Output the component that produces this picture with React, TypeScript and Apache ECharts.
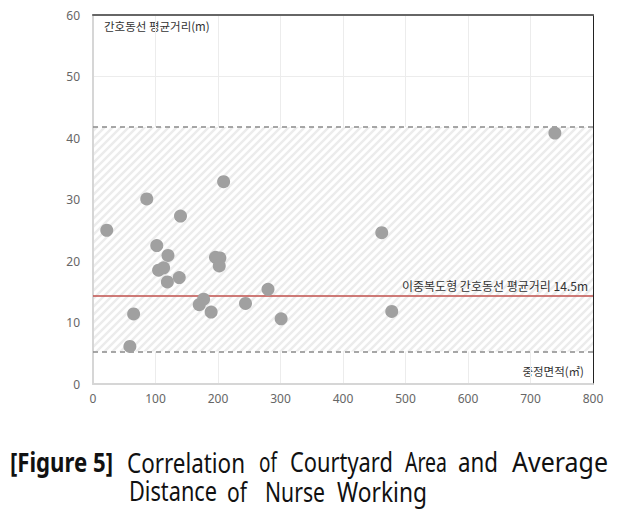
import React, { useEffect, useRef } from "react";
import * as echarts from "echarts";

const courtyardArea = [22, 86, 140, 102, 120, 105, 113, 119, 138, 196, 203, 202, 209, 177, 170, 189, 244, 280, 301, 65, 59, 462, 478, 739];
const avgDistance = [25, 30.1, 27.3, 22.5, 20.9, 18.5, 18.9, 16.6, 17.3, 20.6, 20.5, 19.2, 32.9, 13.8, 12.9, 11.7, 13.1, 15.4, 10.6, 11.4, 6.1, 24.6, 11.8, 40.8];
const rangeUpper = 41.8;
const rangeLower = 5.3;
const referenceLine = 14.3;
const referenceLabel = "이중복도형 간호동선 평균거리 14.5m";
const yAxisTitle = "간호동선 평균거리(m)";
const xAxisTitle = "중정면적(㎡)";
const captionTag = "[Figure 5]";
const captionLine1 = ["Correlation", "of", "Courtyard", "Area", "and", "Average"];
const captionLine2 = ["Distance", "of", "Nurse", "Working"];

const KR = '"Noto Sans CJK KR", "Noto Sans", sans-serif';
const CAP = '"Noto Sans", sans-serif';

export default function App() {
  const ref = useRef<HTMLDivElement>(null);
  useEffect(() => {
    if (!ref.current) return;
    const chart = echarts.init(ref.current, undefined, { renderer: "svg" });
    const P = 8;
    const pc = document.createElement("canvas");
    pc.width = P;
    pc.height = P;
    const ctx = pc.getContext("2d")!;
    ctx.fillStyle = "#ffffff";
    ctx.fillRect(0, 0, P, P);
    ctx.strokeStyle = "#ececec";
    ctx.lineWidth = 2.5;
    ctx.beginPath();
    for (const o of [-P, 0, P]) {
      ctx.moveTo(o - 1, P + 1);
      ctx.lineTo(o + P + 1, -1);
    }
    ctx.stroke();

    const mc = document.createElement("canvas").getContext("2d")!;
    const FS = 27;
    const measure = (w: string, bold: boolean) => {
      mc.font = `${bold ? "bold " : ""}${FS}px ${CAP}`;
      return mc.measureText(w).width || w.length * FS * 0.55;
    };

    const data = courtyardArea.map((x, i) => [x, avgDistance[i]]);
    // [start, end] extents of each caption word on the page
    const tagSpan = [10, 113];
    const line1Span = [[127, 245], [259, 277], [290, 393], [405, 447], [458, 498], [512, 608]];
    const line2Span = [[129, 217], [227, 247], [265, 325], [337, 427]];
    const capWord = (w: string, span: number[], y: number, bold = false) => ({
      type: "text",
      x: span[0],
      y,
      scaleX: (span[1] - span[0]) / measure(w, bold),
      style: {
        text: w,
        fill: "#111",
        fontSize: FS,
        fontWeight: bold ? "bold" : "normal",
        fontFamily: CAP,
        verticalAlign: "middle",
        align: "left",
      },
    });

    chart.setOption({
      animation: false,
      grid: { left: 93, top: 15, width: 500, height: 369 },
      xAxis: [
        {
          type: "value",
          min: 0,
          max: 800,
          interval: 100,
          axisLine: { show: true, lineStyle: { color: "#d6d6d6", width: 2 } },
          axisTick: { show: false },
          axisLabel: { color: "#666", fontSize: 12, fontFamily: "Noto Sans", margin: 8 },
          splitLine: { show: true, lineStyle: { color: "#ececec", width: 1 } },
        },
        {
          type: "value",
          position: "top",
          min: 0,
          max: 800,
          interval: 100,
          axisLine: { show: true, onZero: false, lineStyle: { color: "#666", width: 2 } },
          axisTick: { show: false },
          axisLabel: { show: false },
          splitLine: { show: false },
        },
      ],
      yAxis: [
        {
          type: "value",
          min: 0,
          max: 60,
          interval: 10,
          axisLine: { show: true, lineStyle: { color: "#d6d6d6", width: 2 } },
          axisTick: { show: false },
          axisLabel: { color: "#666", fontSize: 12, fontFamily: "Noto Sans", margin: 13 },
          splitLine: { show: true, lineStyle: { color: "#ececec", width: 1 } },
        },
        {
          type: "value",
          position: "right",
          min: 0,
          max: 60,
          interval: 10,
          axisLine: { show: true, onZero: false, lineStyle: { color: "#222", width: 1 } },
          axisTick: { show: false },
          axisLabel: { show: false },
          splitLine: { show: false },
        },
      ],
      series: [
        {
          type: "scatter",
          data,
          symbolSize: 13,
          itemStyle: { color: "#a0a0a0", opacity: 1 },
          z: 5,
          markArea: {
            silent: true,
            itemStyle: { color: { image: pc, repeat: "repeat" } as any },
            data: [[{ yAxis: rangeLower, x: 94 }, { yAxis: rangeUpper, x: 593 }]],
          },
          markLine: {
            silent: true,
            symbol: "none",
            data: [
              {
                yAxis: rangeUpper,
                lineStyle: { color: "#8a8a8a", type: [5, 4], width: 1.5 },
                label: { show: false },
              },
              {
                yAxis: rangeLower,
                lineStyle: { color: "#8a8a8a", type: [5, 4], width: 1.5 },
                label: { show: false },
              },
              {
                yAxis: referenceLine,
                lineStyle: { color: "#c0504d", type: "solid", width: 1.5 },
                label: {
                  show: true,
                  position: "insideEndTop",
                  formatter: referenceLabel,
                  color: "#333",
                  fontSize: 12,
                  fontFamily: KR,
                  distance: [5, 5],
                },
              },
            ],
          },
        },
      ],
      graphic: [
        {
          type: "text",
          left: 104,
          top: 20,
          style: { text: yAxisTitle, fill: "#333", fontSize: 11.5, fontFamily: KR },
        },
        {
          type: "text",
          right: 44,
          top: 365,
          style: { text: xAxisTitle, fill: "#333", fontSize: 11.5, fontFamily: KR },
        },
        capWord(captionTag, tagSpan, 462, true),
        ...captionLine1.map((w, i) => capWord(w, line1Span[i], 462)),
        ...captionLine2.map((w, i) => capWord(w, line2Span[i], 491)),
      ],
    });
    return () => chart.dispose();
  }, []);
  return (
    <div
      ref={ref}
      style={{ position: "fixed", left: 0, top: 0, width: 628, height: 510, background: "#fff" }}
    />
  );
}
